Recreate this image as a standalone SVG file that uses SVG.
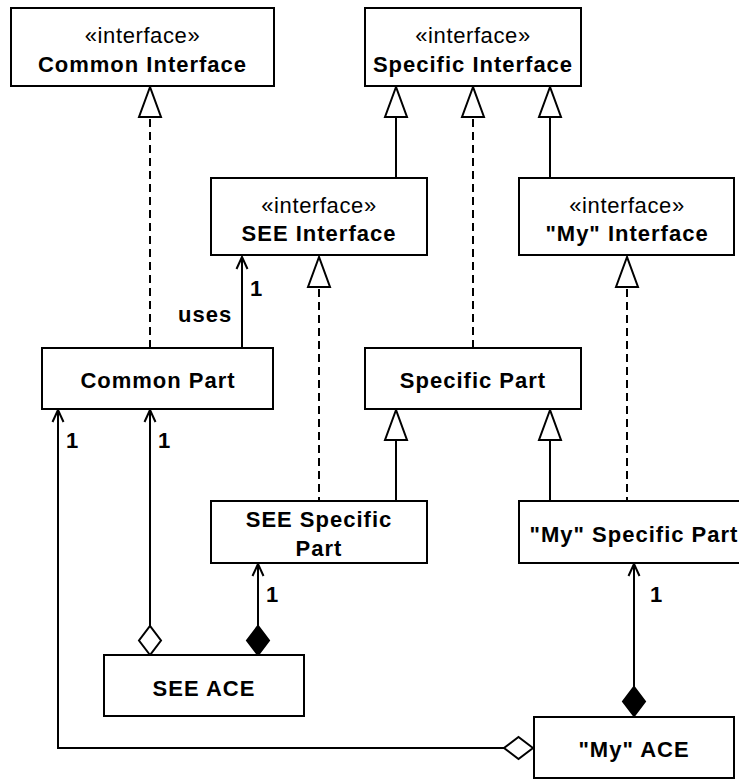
<svg xmlns="http://www.w3.org/2000/svg" width="739" height="779" viewBox="0 0 739 779">
  <style>
    .box { fill: #fff; stroke: #000; stroke-width: 2; }
    .line { fill: none; stroke: #000; stroke-width: 2; }
    .dash { fill: none; stroke: #000; stroke-width: 2; stroke-dasharray: 8 5; }
    .tri { fill: #fff; stroke: #000; stroke-width: 2; stroke-linejoin: miter; }
    .open { fill: none; stroke: #000; stroke-width: 2; }
    .dia-o { fill: #fff; stroke: #000; stroke-width: 2; }
    .dia-f { fill: #000; stroke: #000; stroke-width: 2; }
    text { font-family: "Liberation Sans", Arial, Helvetica, sans-serif; font-size: 22px; fill: #000; }
    .st { letter-spacing: 0.6px; }
    .nm { font-weight: bold; letter-spacing: 1px; }
    .c { text-anchor: middle; }
  </style>

  <!-- connectors -->
  <g id="connectors">
    <!-- Common Part realizes Common Interface -->
    <path class="dash" d="M150 119 V348"/>
    <polygon class="tri" points="150,87 139,117 161,117"/>

    <!-- SEE Interface extends Specific Interface -->
    <path class="line" d="M396 117 V178"/>
    <polygon class="tri" points="396,87 385,117 407,117"/>

    <!-- Specific Part realizes Specific Interface -->
    <path class="dash" d="M473 119 V348"/>
    <polygon class="tri" points="473,87 462,117 484,117"/>

    <!-- "My" Interface extends Specific Interface -->
    <path class="line" d="M550 117 V178"/>
    <polygon class="tri" points="550,87 539,117 561,117"/>

    <!-- Common Part uses SEE Interface -->
    <path class="line" d="M242 348 V257"/>
    <path class="open" d="M236.5 269 L242 257 L247.5 269"/>
    <text x="250" y="296" class="nm">1</text>
    <text x="178" y="322" class="nm">uses</text>

    <!-- SEE Specific Part realizes SEE Interface -->
    <path class="dash" d="M319 289 V501"/>
    <polygon class="tri" points="319,257 308,287 330,287"/>

    <!-- "My" Specific Part realizes "My" Interface -->
    <path class="dash" d="M627 289 V501"/>
    <polygon class="tri" points="627,257 616,287 638,287"/>

    <!-- SEE Specific Part extends Specific Part -->
    <path class="line" d="M396 440 V501"/>
    <polygon class="tri" points="396,410 385,440 407,440"/>

    <!-- "My" Specific Part extends Specific Part -->
    <path class="line" d="M550 440 V501"/>
    <polygon class="tri" points="550,410 539,440 561,440"/>

    <!-- "My" ACE aggregates Common Part -->
    <path class="line" d="M504 748 H58 V410"/>
    <path class="open" d="M52.5 422 L58 410 L63.5 422"/>
    <polygon class="dia-o" points="533,748 518.5,737 504,748 518.5,759"/>
    <text x="66" y="448" class="nm">1</text>

    <!-- SEE ACE aggregates Common Part -->
    <path class="line" d="M150 626 V410"/>
    <path class="open" d="M144.5 422 L150 410 L155.5 422"/>
    <polygon class="dia-o" points="150,655 139,640.5 150,626 161,640.5"/>
    <text x="158" y="448" class="nm">1</text>

    <!-- SEE ACE composes SEE Specific Part -->
    <path class="line" d="M258 626 V564"/>
    <path class="open" d="M252.5 576 L258 564 L263.5 576"/>
    <polygon class="dia-f" points="258,655 247,640.5 258,626 269,640.5"/>
    <text x="266" y="602" class="nm">1</text>

    <!-- "My" ACE composes "My" Specific Part -->
    <path class="line" d="M634 687 V564"/>
    <path class="open" d="M628.5 576 L634 564 L639.5 576"/>
    <polygon class="dia-f" points="634,716 623,701.5 634,687 645,701.5"/>
    <text x="650" y="602" class="nm">1</text>
  </g>

  <!-- nodes -->
  <g id="common-interface">
    <rect class="box" x="11" y="8" width="263" height="78"/>
    <text x="142.5" y="43" class="st c">«interface»</text>
    <text x="142.5" y="72" class="nm c">Common Interface</text>
  </g>

  <g id="specific-interface">
    <rect class="box" x="365" y="8" width="216" height="78"/>
    <text x="473" y="43" class="st c">«interface»</text>
    <text x="473" y="72" class="nm c">Specific Interface</text>
  </g>

  <g id="see-interface">
    <rect class="box" x="211" y="178" width="216" height="77"/>
    <text x="319" y="213" class="st c">«interface»</text>
    <text x="319" y="241" class="nm c">SEE Interface</text>
  </g>

  <g id="my-interface">
    <rect class="box" x="519" y="178" width="215" height="77"/>
    <text x="627" y="213" class="st c">«interface»</text>
    <text x="627" y="241" class="nm c">"My" Interface</text>
  </g>

  <g id="common-part">
    <rect class="box" x="42" y="348" width="231" height="61"/>
    <text x="158" y="388" class="nm c">Common Part</text>
  </g>

  <g id="specific-part">
    <rect class="box" x="365" y="348" width="216" height="61"/>
    <text x="473" y="388" class="nm c">Specific Part</text>
  </g>

  <g id="see-specific-part">
    <rect class="box" x="211" y="501" width="216" height="62"/>
    <text x="319" y="527" class="nm c">SEE Specific</text>
    <text x="319" y="556" class="nm c">Part</text>
  </g>

  <g id="my-specific-part">
    <rect class="box" x="519" y="501" width="224" height="62"/>
    <text x="634" y="542" class="nm c">"My" Specific Part</text>
  </g>

  <g id="see-ace">
    <rect class="box" x="104" y="655" width="200" height="61"/>
    <text x="204" y="696" class="nm c">SEE ACE</text>
  </g>

  <g id="my-ace">
    <rect class="box" x="534" y="717" width="200" height="61"/>
    <text x="634" y="757" class="nm c">"My" ACE</text>
  </g>
</svg>
